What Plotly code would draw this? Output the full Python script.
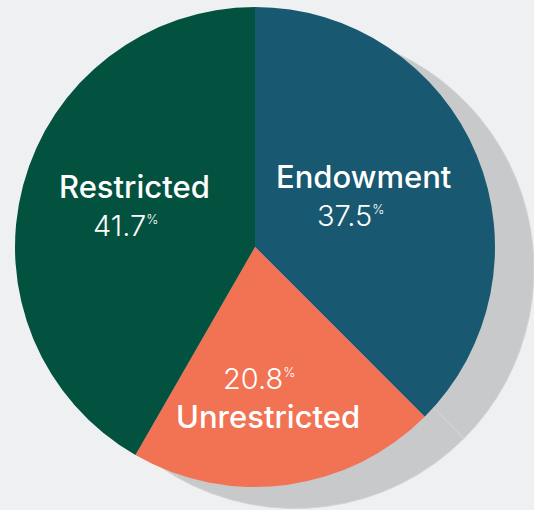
import plotly.graph_objects as go

W, H = 534, 510

categories = ["Endowment", "Unrestricted", "Restricted"]
values = [37.5, 20.8, 41.7]
colors = ["#185870", "#f27254", "#03523f"]
value_labels = ["37.5", "20.8", "41.7"]

BG = "#eff0f2"
SHADOW = "#c8c9cb"

fig = go.Figure()

# shadow pie (offset to lower right)
fig.add_trace(go.Pie(
    labels=categories, values=values, sort=False, direction="clockwise",
    rotation=0, textinfo="none", textposition="none", hoverinfo="skip", showlegend=False,
    marker=dict(colors=[SHADOW] * len(values), line=dict(color="#d3d4d6", width=1)),
    domain=dict(x=[56 / W, 1.0], y=[0.0, 481 / H]),
))

# main pie
fig.add_trace(go.Pie(
    labels=categories, values=values, sort=False, direction="clockwise",
    rotation=0, textinfo="none", textposition="none", showlegend=False,
    marker=dict(colors=colors, line=dict(width=0)),
    domain=dict(x=[15 / W, 495 / W], y=[(H - 487) / H, (H - 7) / H]),
))

LABEL_FONT = dict(family="Inter", size=31, color="white", weight=500)
NUM_FONT = dict(family="Inter", size=29, color="white", weight=300)

def px(x, y):
    return x / W, 1 - y / H

# label layout: (category index, name position, number position)
placements = {
    0: ((363, 176), (350, 215)),
    2: ((134, 186), (125, 225)),
    1: ((268, 416), (259, 378)),
}
for i, (lp, npos) in placements.items():
    x, y = px(*lp)
    fig.add_annotation(x=x, y=y, xref="paper", yref="paper", showarrow=False,
                       text=categories[i], font=LABEL_FONT, xanchor="center", yanchor="middle")
    x, y = px(*npos)
    fig.add_annotation(x=x, y=y, xref="paper", yref="paper", showarrow=False,
                       text=value_labels[i] + "<sup><span style='font-size:13px'>%</span></sup>",
                       font=NUM_FONT, xanchor="center", yanchor="middle")

fig.update_layout(
    width=W, height=H,
    margin=dict(l=0, r=0, t=0, b=0),
    paper_bgcolor=BG, plot_bgcolor=BG,
)

fig.write_html(
    "out.html",
    config=dict(displayModeBar=False),
    post_script="document.body.style.margin='0';document.body.style.background='%s';" % BG,
)
